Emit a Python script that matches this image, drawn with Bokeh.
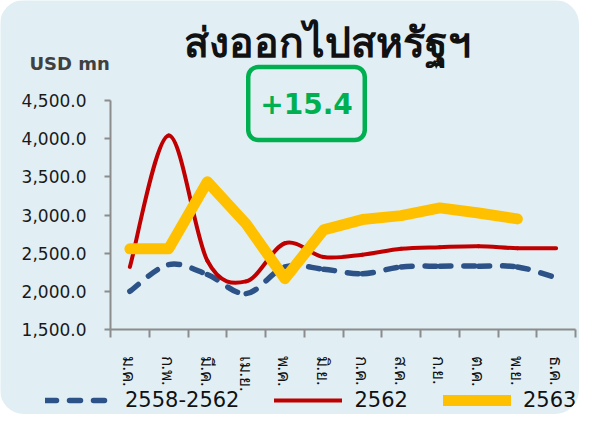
import numpy as np
from bokeh.plotting import figure
from bokeh.models import (ColumnDataSource, FixedTicker, NumeralTickFormatter, Label,
                          Legend, LegendItem, Range1d)
from bokeh.embed import file_html
from bokeh.resources import INLINE

# ---------------- data ----------------
months = ["ม.ค.", "ก.พ.", "มี.ค.", "เม.ย.", "พ.ค.", "มิ.ย.", "ก.ค.", "ส.ค.", "ก.ย.", "ต.ค.", "พ.ย.", "ธ.ค."]
avg_2558_2562 = [2000, 2350, 2220, 1970, 2320, 2290, 2230, 2320, 2330, 2330, 2320, 2180]
y2562 = [2320, 4040, 2400, 2130, 2630, 2450, 2480, 2557, 2578, 2591, 2565, 2565]
y2563 = [2557, 2557, 3436, 2884, 2166, 2805, 2940, 2992, 3093, 3027, 2949]
y_ticks = [1500, 2000, 2500, 3000, 3500, 4000, 4500]
series_names = ["2558-2562", "2562", "2563"]
title_text = "ส่งออกไปสหรัฐฯ"
unit_text = "USD mn"
change_text = "+15.4"

BG = "#E1EFF5"
BLUE = "#2C5287"
RED = "#C00000"
YELLOW = "#FFC000"
GREEN = "#00B050"
AXIS = "#8C8C8C"

# ---------------- layout (canvas pixels) ----------------
W, H = 579, 414
PX_LEFT, PX_RIGHT = 110, 575      # where the x axis starts / ends
PX_TOP, PX_BOTTOM = 100, 329      # where the y axis starts / ends
x_lo, x_hi = -0.5, len(months) - 0.5
y_lo, y_hi = y_ticks[0], y_ticks[-1]
xu = (x_hi - x_lo) / (PX_RIGHT - PX_LEFT)
yu = (y_hi - y_lo) / (PX_BOTTOM - PX_TOP)


def smooth_source(ys):
    """Cubic Bezier segments (Catmull-Rom style control points) through the data."""
    x = np.arange(len(ys), dtype=float)
    y = np.asarray(ys, dtype=float)
    xp = np.concatenate([[x[0]], x, [x[-1]]])
    yp = np.concatenate([[y[0]], y, [y[-1]]])
    n = len(y)
    return ColumnDataSource(dict(
        x0=x[:-1], y0=y[:-1], x1=x[1:], y1=y[1:],
        cx0=x[:-1] + (xp[2:n + 1] - xp[0:n - 1]) / 6.0,
        cy0=y[:-1] + (yp[2:n + 1] - yp[0:n - 1]) / 6.0,
        cx1=x[1:] - (xp[3:n + 2] - xp[1:n]) / 6.0,
        cy1=y[1:] - (yp[3:n + 2] - yp[1:n]) / 6.0,
    ))


p = figure(width=W, height=H,
           x_range=Range1d(x_lo - PX_LEFT * xu, x_hi + (W - PX_RIGHT) * xu),
           y_range=Range1d(y_lo - (H - PX_BOTTOM) * yu, y_hi + PX_TOP * yu),
           output_backend="svg", toolbar_location=None,
           min_border=0, min_border_left=0, min_border_right=0,
           min_border_top=0, min_border_bottom=0)
p.title.text = ""
p.background_fill_color = BG
p.border_fill_color = BG
p.outline_line_color = None
p.xgrid.visible = False
p.ygrid.visible = False
p.styles = {"border-radius": "24px", "overflow": "hidden"}

# series
r_avg = p.bezier(x0="x0", y0="y0", x1="x1", y1="y1", cx0="cx0", cy0="cy0", cx1="cx1", cy1="cy1",
                 source=smooth_source(avg_2558_2562), line_color=BLUE, line_width=5.5,
                 line_dash="11 13", line_cap="round")
r_62 = p.bezier(x0="x0", y0="y0", x1="x1", y1="y1", cx0="cx0", cy0="cy0", cx1="cx1", cy1="cy1",
                source=smooth_source(y2562), line_color=RED, line_width=4, line_cap="round")
r_63 = p.line(x=list(range(len(y2563))), y=y2563, line_color=YELLOW, line_width=11,
              line_join="round", line_cap="round")

# y axis
ya = p.yaxis[0]
ya.fixed_location = x_lo
ya.bounds = (y_lo, y_hi)
ya.ticker = FixedTicker(ticks=y_ticks)
ya.formatter = NumeralTickFormatter(format="0,0.0")
ya.axis_line_color = AXIS
ya.axis_line_width = 2
ya.major_tick_line_color = AXIS
ya.major_tick_line_width = 2
ya.major_tick_out = 6
ya.major_tick_in = 0
ya.minor_tick_line_color = None
ya.major_label_standoff = 18
ya.major_label_text_font = "DejaVu Sans"
ya.major_label_text_font_size = "17px"
ya.major_label_text_color = "#1A1A1A"

# x axis
xa = p.xaxis[0]
xa.fixed_location = y_lo
xa.bounds = (x_lo, x_hi)
xa.ticker = FixedTicker(ticks=list(range(len(months))),
                        minor_ticks=[i - 0.5 for i in range(len(months) + 1)])
xa.major_label_overrides = {i: m for i, m in enumerate(months)}
xa.major_label_orientation = "vertical"
xa.axis_line_color = AXIS
xa.axis_line_width = 2
xa.major_tick_line_color = None
xa.major_tick_out = 0
xa.major_tick_in = 0
xa.minor_tick_line_color = AXIS
xa.minor_tick_line_width = 2
xa.minor_tick_out = 8
xa.minor_tick_in = 0
xa.major_label_standoff = 18
xa.major_label_text_font = "Noto Sans"
xa.major_label_text_font_size = "17px"
xa.major_label_text_color = "#111111"

# texts (screen units, measured from the canvas bottom-left)
p.add_layout(Label(x=327, y=H - 40, x_units="screen", y_units="screen", text=title_text,
                   text_align="center", text_baseline="middle",
                   text_font="Noto Sans", text_font_style="bold",
                   text_font_size="41px", text_color="#111111"))
p.add_layout(Label(x=29, y=H - 63, x_units="screen", y_units="screen", text=unit_text,
                   text_align="left", text_baseline="middle",
                   text_font="DejaVu Sans", text_font_style="bold",
                   text_font_size="18px", text_color="#404040"))
p.add_layout(Label(x=306, y=H - 103, x_units="screen", y_units="screen", text=change_text,
                   text_align="center", text_baseline="middle",
                   text_font="DejaVu Sans", text_font_style="bold",
                   text_font_size="28px", text_color=GREEN,
                   border_line_color=GREEN, border_line_width=4.5, border_radius=10,
                   padding=(12, 12, 26, 26)))

legend = Legend(items=[LegendItem(label=series_names[0], renderers=[r_avg]),
                       LegendItem(label=series_names[1], renderers=[r_62]),
                       LegendItem(label=series_names[2], renderers=[r_63])],
                location=(45, 2), orientation="horizontal",
                glyph_width=68, glyph_height=20, label_height=20, label_standoff=12, spacing=35,
                padding=0, margin=0, background_fill_alpha=0, border_line_color=None,
                label_text_font="DejaVu Sans", label_text_font_size="21px",
                label_text_color="#111111")
p.add_layout(legend)

open("out.html", "w").write(file_html(p, INLINE))
